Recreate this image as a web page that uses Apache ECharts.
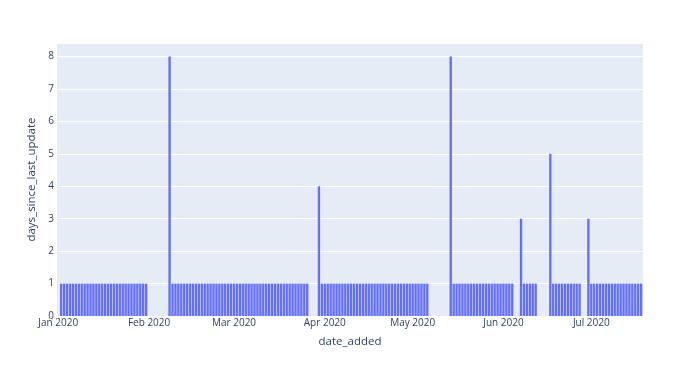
<!DOCTYPE html>
<html>
<head>
<meta charset="utf-8">
<script src="https://cdn.jsdelivr.net/npm/echarts@6/dist/echarts.min.js"></script>
<style>html,body{margin:0;padding:0;background:#fff}#c{width:700px;height:374px}</style>
</head>
<body>
<div id="c"></div>
<script>
const dates = [
  '2020-01-02','2020-01-03','2020-01-04','2020-01-05','2020-01-06','2020-01-07','2020-01-08','2020-01-09','2020-01-10','2020-01-11',
  '2020-01-12','2020-01-13','2020-01-14','2020-01-15','2020-01-16','2020-01-17','2020-01-18','2020-01-19','2020-01-20','2020-01-21',
  '2020-01-22','2020-01-23','2020-01-24','2020-01-25','2020-01-26','2020-01-27','2020-01-28','2020-01-29','2020-01-30','2020-01-31',
  '2020-02-08','2020-02-09','2020-02-10','2020-02-11','2020-02-12','2020-02-13','2020-02-14','2020-02-15','2020-02-16','2020-02-17',
  '2020-02-18','2020-02-19','2020-02-20','2020-02-21','2020-02-22','2020-02-23','2020-02-24','2020-02-25','2020-02-26','2020-02-27',
  '2020-02-28','2020-02-29',
  '2020-03-01','2020-03-02','2020-03-03','2020-03-04','2020-03-05','2020-03-06','2020-03-07','2020-03-08','2020-03-09','2020-03-10',
  '2020-03-11','2020-03-12','2020-03-13','2020-03-14','2020-03-15','2020-03-16','2020-03-17','2020-03-18','2020-03-19','2020-03-20',
  '2020-03-21','2020-03-22','2020-03-23','2020-03-24','2020-03-25','2020-03-26','2020-03-30','2020-03-31',
  '2020-04-01','2020-04-02','2020-04-03','2020-04-04','2020-04-05','2020-04-06','2020-04-07','2020-04-08','2020-04-09','2020-04-10',
  '2020-04-11','2020-04-12','2020-04-13','2020-04-14','2020-04-15','2020-04-16','2020-04-17','2020-04-18','2020-04-19','2020-04-20',
  '2020-04-21','2020-04-22','2020-04-23','2020-04-24','2020-04-25','2020-04-26','2020-04-27','2020-04-28','2020-04-29','2020-04-30',
  '2020-05-01','2020-05-02','2020-05-03','2020-05-04','2020-05-05','2020-05-06',
  '2020-05-14','2020-05-15','2020-05-16','2020-05-17','2020-05-18','2020-05-19','2020-05-20','2020-05-21','2020-05-22','2020-05-23',
  '2020-05-24','2020-05-25','2020-05-26','2020-05-27','2020-05-28','2020-05-29','2020-05-30','2020-05-31',
  '2020-06-01','2020-06-02','2020-06-03','2020-06-04','2020-06-07','2020-06-08','2020-06-09','2020-06-10','2020-06-11','2020-06-12',
  '2020-06-17','2020-06-18','2020-06-19','2020-06-20','2020-06-21','2020-06-22','2020-06-23','2020-06-24','2020-06-25','2020-06-26',
  '2020-06-27','2020-06-30',
  '2020-07-01','2020-07-02','2020-07-03','2020-07-04','2020-07-05','2020-07-06','2020-07-07','2020-07-08','2020-07-09','2020-07-10',
  '2020-07-11','2020-07-12','2020-07-13','2020-07-14','2020-07-15','2020-07-16','2020-07-17','2020-07-18'
];
const values = [
  1,1,1,1,1,1,1,1,1,1, 1,1,1,1,1,1,1,1,1,1, 1,1,1,1,1,1,1,1,1,1,
  8,1,1,1,1,1,1,1,1,1, 1,1,1,1,1,1,1,1,1,1, 1,1,
  1,1,1,1,1,1,1,1,1,1, 1,1,1,1,1,1,1,1,1,1, 1,1,1,1,1,1,4,1,
  1,1,1,1,1,1,1,1,1,1, 1,1,1,1,1,1,1,1,1,1, 1,1,1,1,1,1,1,1,1,1,
  1,1,1,1,1,1,
  8,1,1,1,1,1,1,1,1,1, 1,1,1,1,1,1,1,1,
  1,1,1,1,3,1,1,1,1,1, 5,1,1,1,1,1,1,1,1,1, 1,3,
  1,1,1,1,1,1,1,1,1,1, 1,1,1,1,1,1,1,1
];
const monthTicks = ['2020-01-01','2020-02-01','2020-03-01','2020-04-01','2020-05-01','2020-06-01','2020-07-01'];
const monthNames = ['Jan','Feb','Mar','Apr','May','Jun','Jul','Aug','Sep','Oct','Nov','Dec'];
const yTicks = [0,1,2,3,4,5,6,7,8];

function toTs(s){ const p = s.split('-').map(Number); return new Date(p[0], p[1]-1, p[2]).getTime(); }
const DAY = 86400000;
const x0 = toTs('2020-01-01');

const chart = echarts.init(document.getElementById('c'), null, {renderer:'canvas'});
const font = "'Open Sans', verdana, arial, sans-serif";
chart.setOption({
  animation:false,
  textStyle:{fontFamily:font},
  grid:{left:57,right:57,top:43,bottom:58,show:true,backgroundColor:'#E5ECF6',borderWidth:0,containLabel:false},
  xAxis:{
    type:'value',
    min:x0 - 0.44*DAY,
    max:x0 + 199.65*DAY,
    name:'date_added',
    nameLocation:'middle',
    nameGap:20,
    nameTextStyle:{color:'#2a3f5f',fontSize:11.5,fontFamily:font},
    axisLine:{show:false},
    axisTick:{show:false},
    splitLine:{show:false},
    axisLabel:{
      color:'#2a3f5f',fontSize:10,fontFamily:font,margin:2,
      customValues: monthTicks.map(toTs),
      formatter:function(v){ const d=new Date(v); return monthNames[d.getMonth()]+' '+d.getFullYear(); },
      hideOverlap:false
    }
  },
  yAxis:{
    type:'value',
    min:0,max:8.42,interval:1,
    name:'days_since_last_update',
    nameLocation:'middle',
    nameGap:19,
    nameTextStyle:{color:'#2a3f5f',fontSize:11.5,fontFamily:font},
    axisLine:{show:false},
    axisTick:{show:false},
    splitLine:{show:true,lineStyle:{color:'#ffffff',width:1}},
    axisLabel:{color:'#2a3f5f',fontSize:10,fontFamily:font,margin:3,showMaxLabel:false,
      formatter:function(v){ return yTicks.indexOf(v)>=0 ? String(v) : ''; }}
  },
  series:[{
    type:'bar',
    barWidth:2.34,
    itemStyle:{color:'#636efa'},
    data: dates.map((d,i)=>[toTs(d), values[i]])
  }]
});
</script>
</body>
</html>
